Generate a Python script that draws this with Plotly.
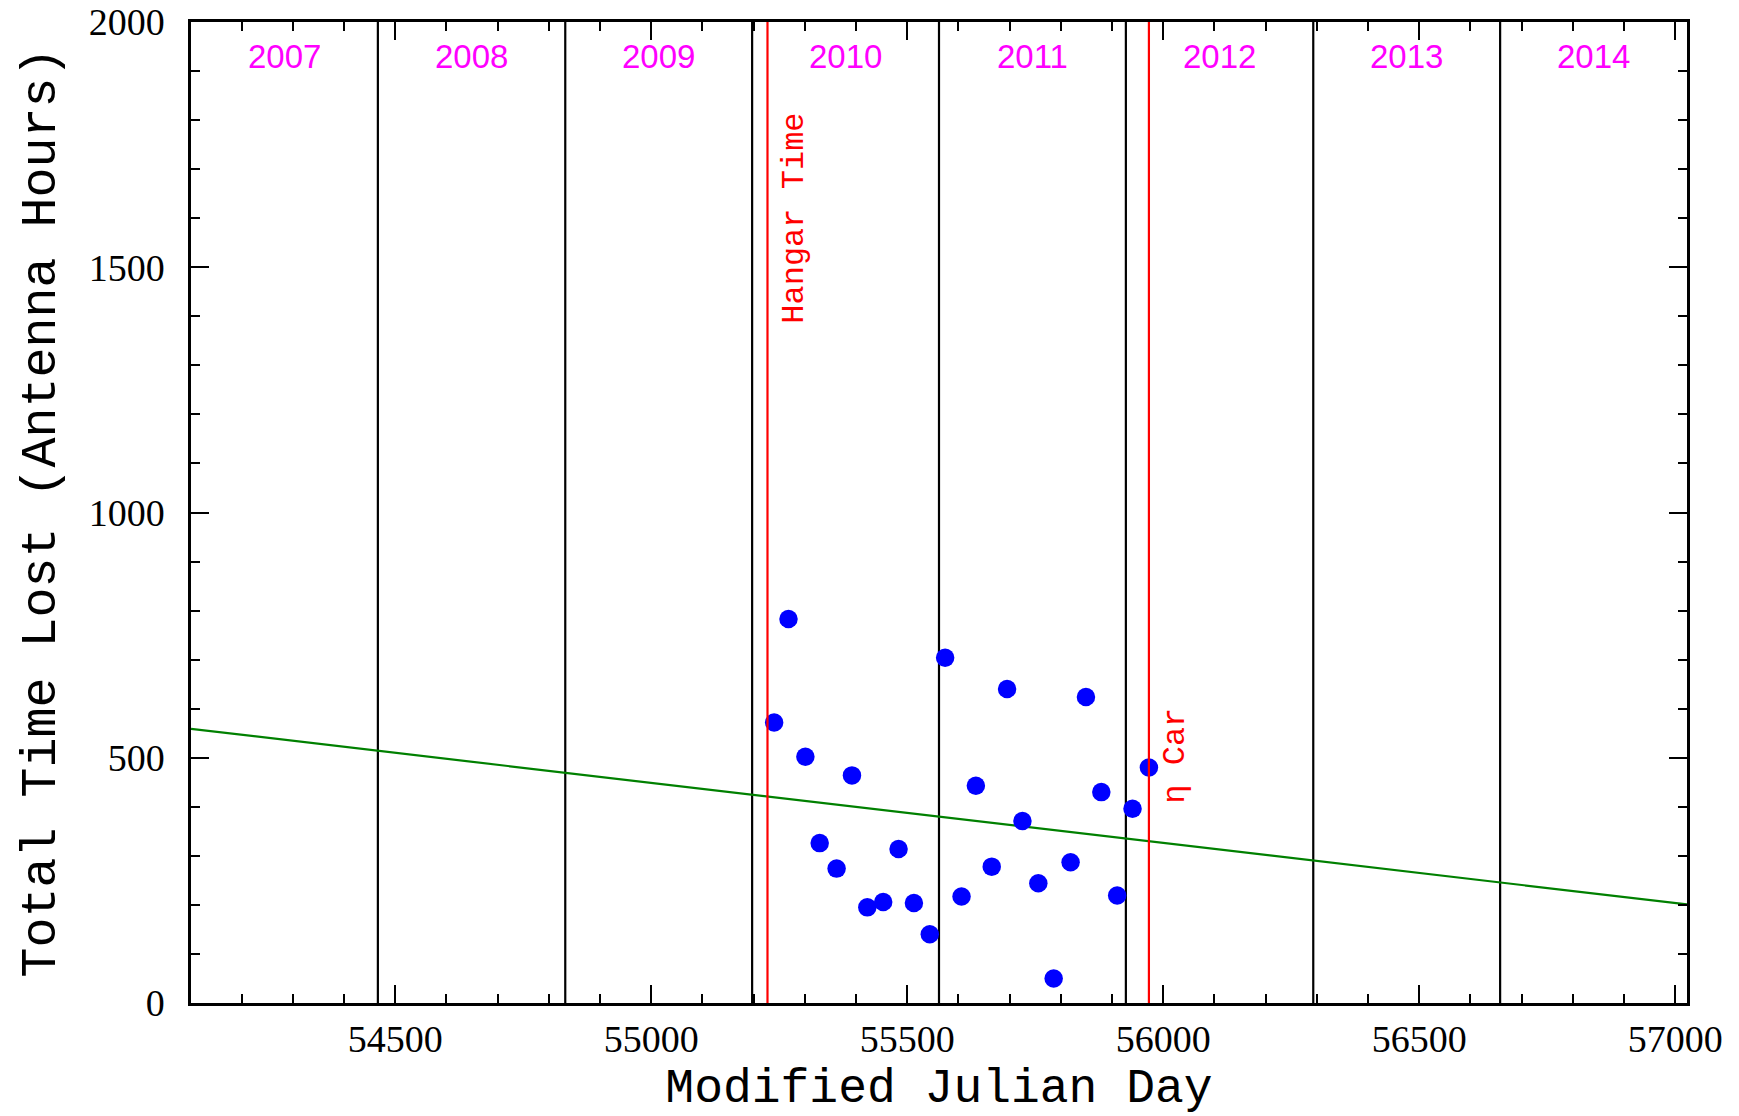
import plotly.graph_objects as go

# ---- data ----
obs_mjd = [55240, 55268, 55301, 55329, 55362, 55392, 55422, 55453, 55483, 55513,
           55544, 55574, 55606, 55634, 55665, 55695, 55725, 55756, 55786, 55819,
           55849, 55879, 55910, 55940, 55972]
time_lost = [572, 783, 502, 326, 274, 464, 195, 206, 314, 204,
             140, 704, 217, 443, 278, 640, 371, 244, 50, 287,
             624, 430, 219, 396, 480]

trend_mjd = [54101, 57023]
trend_hours = [559, 201]

year_names = ["2007", "2008", "2009", "2010", "2011", "2012", "2013", "2014"]
year_bounds = [54101, 54466, 54832, 55197, 55562, 55927, 56293, 56658, 57023]

event_names = ["Hangar Time", "η Car"]
event_mjd = [55227, 55972]
event_label_y = [1600, 504]

x_ticks = [54500, 55000, 55500, 56000, 56500, 57000]
y_ticks = [0, 500, 1000, 1500, 2000]

fig = go.Figure()

# year boundary lines
for b in year_bounds[1:-1]:
    fig.add_trace(go.Scatter(x=[b, b], y=[0, 2000], mode="lines",
                             line=dict(color="black", width=2.2),
                             hoverinfo="skip", showlegend=False))

# trend line
fig.add_trace(go.Scatter(x=trend_mjd, y=trend_hours, mode="lines",
                         line=dict(color="green", width=2.2), showlegend=False))

# data points
fig.add_trace(go.Scatter(x=obs_mjd, y=time_lost, mode="markers",
                         marker=dict(color="blue", size=18.5, line=dict(width=0)),
                         showlegend=False))

# event lines
for m in event_mjd:
    fig.add_trace(go.Scatter(x=[m, m], y=[0, 2000], mode="lines",
                             line=dict(color="red", width=2.2),
                             hoverinfo="skip", showlegend=False))

# year labels
for i, name in enumerate(year_names):
    mid = (year_bounds[i] + year_bounds[i + 1]) / 2
    fig.add_annotation(x=mid, y=1930, text=name, showarrow=False,
                       font=dict(family="Liberation Sans", size=33, color="#ff00ff"))

# event labels
for name, m, yl in zip(event_names, event_mjd, event_label_y):
    fig.add_annotation(x=m, y=yl, text=name, showarrow=False, textangle=-90,
                       xshift=27,
                       font=dict(family="Liberation Mono", size=32, color="red"))

axis_common = dict(
    showgrid=False, zeroline=False, showline=True, linecolor="black", linewidth=2.5,
    mirror="allticks", ticks="inside", ticklen=18, tickwidth=2, tickcolor="black",
    tickfont=dict(family="Liberation Serif", size=38, color="black"),
    automargin=False,
)

fig.update_xaxes(range=[54101, 57023], tickvals=x_ticks,
                 ticktext=[str(v) for v in x_ticks],
                 minor=dict(dtick=100, tick0=54500, ticks="inside", ticklen=9,
                            tickwidth=2, tickcolor="black"),
                 title=dict(text="Modified Julian Day",
                            font=dict(family="Liberation Mono", size=48, color="black"),
                            standoff=24),
                 ticklabelstandoff=1,
                 **axis_common)
fig.update_yaxes(range=[0, 2000], tickvals=y_ticks,
                 ticktext=[str(v) for v in y_ticks],
                 minor=dict(dtick=100, tick0=0, ticks="inside", ticklen=9,
                            tickwidth=2, tickcolor="black"),
                 title=dict(text="Total Time Lost (Antenna Hours)",
                            font=dict(family="Liberation Mono", size=50, color="black"),
                            standoff=18),
                 ticklabelstandoff=16,
                 **axis_common)

fig.update_layout(
    width=1739, height=1116,
    margin=dict(l=191, r=52, t=22, b=113),
    plot_bgcolor="white", paper_bgcolor="white",
    showlegend=False,
)

fig.write_html("out.html")
